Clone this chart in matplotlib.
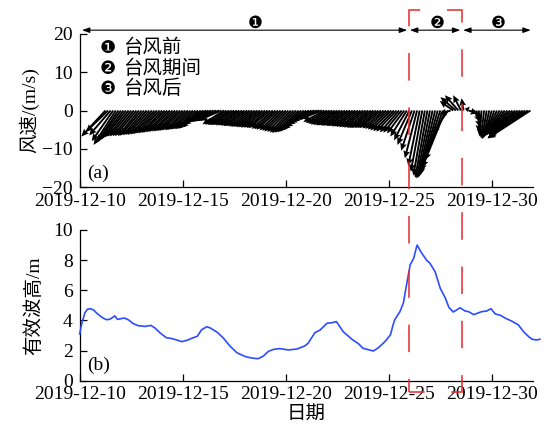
import numpy as np
import pandas as pd
import matplotlib
matplotlib.use("Agg")
import matplotlib.pyplot as plt
import matplotlib.dates as mdates
from matplotlib.patches import Rectangle
from matplotlib.ticker import FixedLocator

plt.rcParams['font.family'] = ['Liberation Serif', 'Noto Sans CJK SC', 'DejaVu Sans']
plt.rcParams['axes.unicode_minus'] = True
plt.rcParams['lines.scale_dashes'] = False

# ---------------- data ----------------
wind_start = '2019-12-11 06:00'   # 3-hourly wind vectors (m/s)
wind_u = [-6.3, -5.8, -5.6, -5.6, -5.8, -5.6,
          -5.6, -5.5, -5.6, -5.5, -5.6, -5.5, -5.6, -5.5,
          -5.6, -5.5, -5.5, -5.6, -5.5, -5.5, -5.4, -5.5,
          -5.4, -5.5, -5.4, -5.4, -5.3, -5.4, -5.3, -5.3,
          -5.3, -5.2, -5.3, -5.2, -5.2, -5.3, -5.2, -5.2,
          -5.2, -5.4, -5.5, -5.6, -5.6, -5.7, -5.7, -5.8,
          -5.6, -5.6, -5.5, -5.5, -5.6, -5.5, -5.5, -5.5,
          -5.5, -5.6, -5.5, -5.5, -5.4, -5.5, -5.5, -5.6,
          -5.5, -5.5, -5.6, -5.5, -5.5, -5.6, -5.5, -5.5,
          -5.6, -5.5, -5.5, -5.6, -5.5, -5.5, -5.6, -5.5,
          -5.5, -5.6, -5.7, -5.8, -5.8, -5.7, -5.6, -5.5,
          -5.5, -5.5, -5.6, -5.5, -5.5, -5.6, -5.5, -5.5,
          -5.5, -5.6, -5.5, -5.5, -5.6, -5.5, -5.5, -5.6,
          -5.5, -5.5, -5.6, -5.5, -5.5, -5.6, -5.5, -5.5,
          -5.5, -5.5, -5.4, -5.3, -5.0, -4.8, -4.5, -4.3,
          -4.0, -3.8, -3.5, -3.2, -3.0, -3.0, -3.0, -3.2,
          -3.5, -3.8, -4.2, -4.6, -5.0, -5.3, -5.3, -4.0,
          -3.0, -3.5, -4.0, -3.5, -2.0, -0.5, 1.0, 2.5,
          3.0, 2.0, 1.0, 0.0, -0.5, -0.8, -1.2, -1.6,
          -2.0, -2.5, -3.0, -3.5, -4.0, -4.5, -5.0, -5.5,
          -6.0, -6.8, -7.5, -8.2, -9.0, -9.8, -10.5, -11.2]
wind_v = [-6.8, -5.6, -6.5, -8.0, -9.0, -8.3,
          -7.7, -7.3, -7.0, -6.8, -6.8, -6.7, -6.7, -6.7,
          -6.6, -6.5, -6.4, -6.4, -6.3, -6.2, -6.0, -6.0,
          -5.9, -5.8, -5.7, -5.6, -5.5, -5.5, -5.4, -5.3,
          -5.2, -5.2, -5.1, -5.0, -4.9, -4.9, -4.8, -4.5,
          -3.8, -3.2, -3.0, -2.9, -2.8, -2.7, -2.6, -2.5,
          -3.6, -3.7, -3.8, -3.8, -3.8, -3.9, -3.9, -4.0,
          -4.1, -4.1, -4.2, -4.3, -4.3, -4.4, -4.4, -4.5,
          -4.5, -4.6, -4.6, -4.8, -4.9, -5.0, -5.2, -5.3,
          -5.5, -5.6, -5.8, -5.9, -5.8, -5.7, -5.5, -5.1,
          -4.5, -3.8, -3.3, -2.8, -2.4, -2.1, -2.2, -3.0,
          -3.3, -3.5, -3.7, -3.8, -3.9, -3.9, -4.0, -4.0,
          -4.1, -4.1, -4.2, -4.2, -4.3, -4.4, -4.4, -4.5,
          -4.6, -4.6, -4.6, -4.6, -4.6, -4.6, -4.7, -4.8,
          -5.0, -5.2, -5.4, -5.5, -5.7, -5.8, -6.0, -6.8,
          -7.8, -9.0, -10.5, -12.5, -14.5, -16.0, -17.0, -17.6,
          -17.8, -17.6, -17.3, -16.8, -16.0, -15.0, -13.0, -6.0,
          -1.0, 2.5, 3.5, 4.0, 4.0, 3.2, 1.0, -0.8,
          -1.8, -3.0, -4.5, -5.8, -6.8, -7.3, -7.5, -7.3,
          -7.0, -6.8, -6.6, -6.5, -6.4, -6.3, -6.2, -6.2,
          -6.2, -6.4, -6.6, -6.8, -7.0, -7.1, -7.2, -7.3]

wave_start = '2019-12-10 00:00'   # hours after start, significant wave height (m)
wave_hours = [0, 2, 6, 9, 12, 16, 20, 26, 31, 35, 39, 41, 44, 47, 52, 57, 62, 68, 76, 83,
              88, 94, 101, 107, 113, 119, 125, 130, 137, 142, 148, 152, 160, 167, 175, 183, 187, 193, 198, 202,
              208, 214, 220, 226, 233, 243, 253, 262, 266, 274, 280, 288, 294, 299, 307, 317, 325, 330, 342, 348,
              356, 362, 365, 367, 373, 377, 381, 385, 389, 393, 398, 404, 408, 414, 420, 426, 430, 435, 439, 443,
              449, 453, 459, 468, 474, 479, 484, 490, 496, 503, 511, 517, 523, 527, 532, 536]
wave_hs = [3.1, 3.7, 4.5, 4.74, 4.78, 4.7, 4.47, 4.2, 4.05, 4.07, 4.22, 4.3, 4.07, 4.1, 4.16, 4.03, 3.8, 3.65, 3.6, 3.67,
           3.48, 3.15, 2.85, 2.8, 2.7, 2.59, 2.68, 2.8, 2.95, 3.38, 3.58, 3.5, 3.22, 2.85, 2.3, 1.86, 1.75, 1.6, 1.53, 1.49,
           1.46, 1.64, 1.95, 2.08, 2.13, 2.04, 2.1, 2.3, 2.48, 3.19, 3.36, 3.81, 3.85, 3.92, 3.25, 2.75, 2.44, 2.15, 1.97, 2.19,
           2.62, 3.05, 3.7, 4.05, 4.58, 5.15, 6.45, 7.7, 8.12, 9.0, 8.5, 8.0, 7.79, 7.23, 6.13, 5.47, 4.87, 4.56, 4.69, 4.84,
           4.62, 4.58, 4.38, 4.58, 4.62, 4.78, 4.43, 4.34, 4.14, 3.96, 3.7, 3.25, 2.92, 2.75, 2.7, 2.75]

x_range = ['2019-12-10', '2020-01-01']
tick_dates = ['2019-12-10', '2019-12-15', '2019-12-20', '2019-12-25', '2019-12-30']
typhoon_start = '2019-12-25 23:00'
typhoon_end = '2019-12-28 13:00'
period_edges = ['2019-12-10 01:00', typhoon_start, typhoon_end, '2019-12-31 23:00']
period_marks = ['❶', '❷', '❸']
period_mark_pos = ['2019-12-18 12:00', '2019-12-27 08:00', '2019-12-30 07:00']
legend_names = ['台风前', '台风期间', '台风后']

# ---------------- figure ----------------
d2n = lambda s: mdates.date2num(pd.Timestamp(s))
wind_t = mdates.date2num(pd.date_range(wind_start, periods=len(wind_u), freq='3h'))
wave_t = mdates.date2num(pd.Timestamp(wave_start) + pd.to_timedelta(wave_hours, unit='h'))

fig = plt.figure(figsize=(5.47, 4.32), dpi=100)
ax1 = fig.add_axes([0.1457, 0.5671, 0.8287, 0.3542])
ax2 = fig.add_axes([0.1457, 0.1188, 0.8287, 0.3488])

FS = 14
for ax in (ax1, ax2):
    ax.set_xlim(d2n(x_range[0]), d2n(x_range[1]))
    ax.xaxis.set_major_locator(FixedLocator([d2n(d) for d in tick_dates]))
    ax.xaxis.set_major_formatter(mdates.DateFormatter('%Y-%m-%d'))
    ax.spines['top'].set_visible(False)
    ax.spines['right'].set_visible(False)
    for s in ('left', 'bottom'):
        ax.spines[s].set_linewidth(0.9)
    ax.tick_params(direction='in', length=5, width=0.9, labelsize=FS)
    ax.tick_params(axis='x', pad=4)
    ax.tick_params(axis='y', pad=5)

# (a) wind sticks
ax1.quiver(wind_t, np.zeros(len(wind_u)), wind_u, wind_v, angles='uv',
           scale_units='y', scale=1, width=0.0042, headwidth=3.6,
           headlength=4.0, headaxislength=3.5, color='k', zorder=3)
ax1.set_ylim(-20, 20)
ax1.set_yticks([-20, -10, 0, 10, 20])
ax1.set_ylabel('风速/(m/s)', fontsize=FS, labelpad=2)
ax1.text(0.016, 0.09, '(a)', transform=ax1.transAxes, fontsize=FS, va='center', ha='left')

for i, name in enumerate(legend_names):
    y = 0.908 - i * 0.134
    ax1.text(0.0625, y, period_marks[i], transform=ax1.transAxes, fontsize=13,
             family='DejaVu Sans', ha='center', va='center')
    ax1.text(0.095, y, name, transform=ax1.transAxes, fontsize=FS, ha='left', va='center')

for a, b, m, p in zip(period_edges[:-1], period_edges[1:], period_marks, period_mark_pos):
    ax1.annotate('', xy=(d2n(b), 21), xytext=(d2n(a), 21),
                 arrowprops=dict(arrowstyle='<|-|>,head_length=0.45,head_width=0.16',
                                 color='k', lw=0.8, shrinkA=1, shrinkB=1),
                 annotation_clip=False)
    ax1.text(d2n(p), 22.9, m, fontsize=12, family='DejaVu Sans',
             ha='center', va='center', clip_on=False)

# (b) wave height
ax2.plot(wave_t, wave_hs, color='#2b4dff', lw=1.2, clip_on=False, zorder=3)
ax2.set_ylim(0, 10)
ax2.set_yticks([0, 2, 4, 6, 8, 10])
ax2.set_ylabel('有效波高/m', fontsize=FS, labelpad=7)
ax2.set_xlabel('日期', fontsize=FS, labelpad=2)
ax2.text(0.016, 0.104, '(b)', transform=ax2.transAxes, fontsize=FS, va='center', ha='left')

# red dashed box marking typhoon period
inv = fig.transFigure.inverted()
fx0 = inv.transform(ax1.transData.transform((d2n(typhoon_start), 0)))[0]
fx1 = inv.transform(ax1.transData.transform((d2n(typhoon_end), 0)))[0]
fy0, fy1 = 0.0926, 0.9769
rect = Rectangle((fx0, fy0), fx1 - fx0, fy1 - fy0, transform=fig.transFigure,
                 fill=False, edgecolor='#e8282b', lw=1.1,
                 linestyle=(8.6, (19.8, 19.3)), zorder=10)
fig.add_artist(rect)

fig.savefig('out.png', dpi=100)
